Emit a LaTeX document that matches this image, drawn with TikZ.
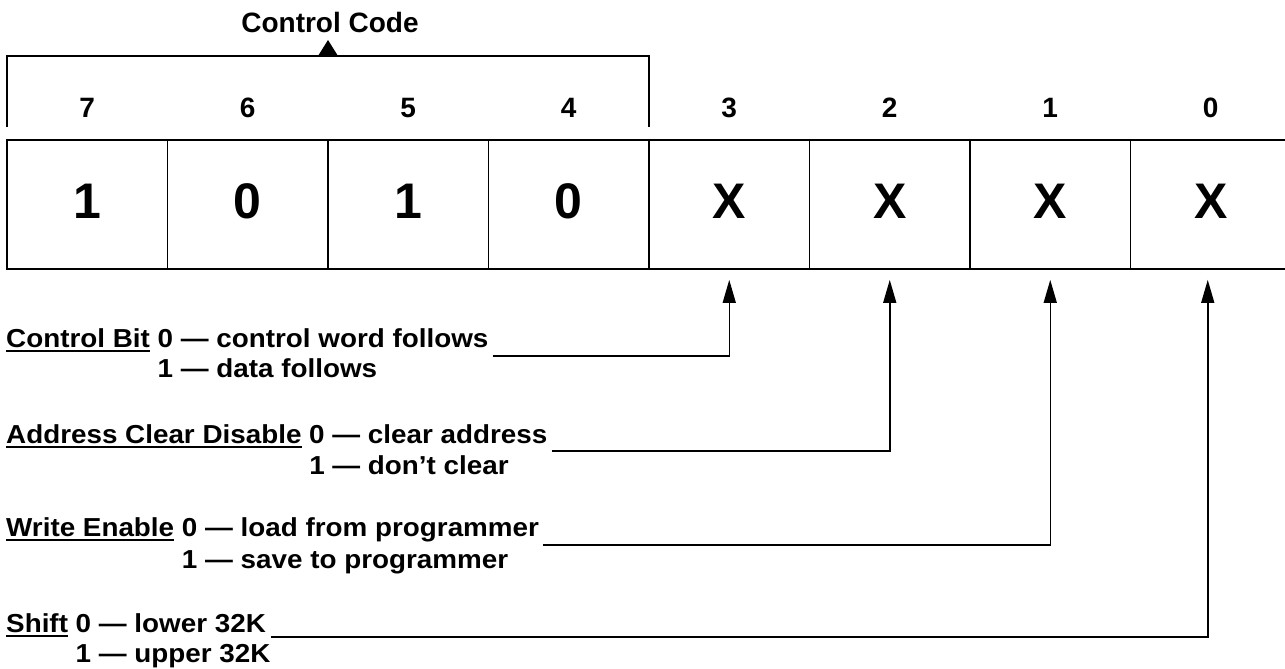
\documentclass[tikz,border=0pt]{standalone}
\usepackage{fontspec}
\setmainfont{Liberation Sans}
\newfontfamily\labf{Liberation Sans Bold}[FakeStretch=1.07]
\newfontfamily\numf{Liberation Sans Bold}
\newfontfamily\bigf{Liberation Sans Bold}
\usetikzlibrary{arrows.meta,calc}
\newcommand\ulx[1]{\setbox0\hbox{#1}\rlap{\rule[-5pt]{\wd0}{1.8pt}}\box0\relax}
\begin{document}
\begin{tikzpicture}[x=1pt,y=-1pt,
  lab/.style={font={\labf\fontsize{26pt}{30pt}\selectfont}, inner sep=0pt, anchor=base west},
  bitno/.style={font={\numf\fontsize{28pt}{32pt}\selectfont}, inner sep=0pt, anchor=base},
  cell/.style={draw, line width=1.8pt, minimum width=160.5pt, minimum height=129pt, inner sep=0pt,
    text height=36pt, text depth=9pt, font={\bigf\fontsize{50pt}{52pt}\selectfont}},
  frame/.style={line width=1.8pt},
  lead/.style={line width=1.5pt, -{Triangle[length=23pt,width=13pt]}}]
\useasboundingbox (0,0) rectangle (1285,669);
% bracket
\node[bitno] (cc) at (330,33) {Control Code};
\draw[frame] (7,127) -- (7,56) -- (649,56) -- (649,127);
\fill (318,56) -- (338,56) -- (328,40) -- cycle;
% bit numbers
\foreach \n/\x in {7/87.25,6/247.75,5/408.25,4/568.75,3/729.25,2/889.75,1/1050.25,0/1210.75}
  \node[bitno] (b\n) at (\x,117) {\n};
% cells
\node[cell] (c7) at (87.25,204.5) {1};
\node[cell] (c6) at (247.75,204.5) {0};
\node[cell] (c5) at (408.25,204.5) {1};
\node[cell] (c4) at (568.75,204.5) {0};
\node[cell] (c3) at (729.25,204.5) {X};
\node[cell] (c2) at (889.75,204.5) {X};
\node[cell] (c1) at (1050.25,204.5) {X};
\node[cell] (c0) at (1210.75,204.5) {X};
% labels
\node[lab] (cb) at (6,347) {\ulx{Control Bit} 0 — control word follows};
\node[lab] (cb1) at (6,377) {\phantom{Control Bit }1 — data follows};
\node[lab] (ad) at (6,443) {\ulx{Address Clear Disable} 0 — clear address};
\node[lab] (ad1) at (6,474) {\phantom{Address Clear Disable }1 — don’t clear};
\node[lab] (we) at (6,536) {\ulx{Write Enable} 0 — load from programmer};
\node[lab] (we1) at (6,568) {\phantom{Write Enable }1 — save to programmer};
\node[lab] (sh) at (6,632) {\ulx{Shift} 0 — lower 32K};
\node[lab] (sh1) at (6,662) {\phantom{Shift }1 — upper 32K};
% connectors
\coordinate (cbs) at ([xshift=4pt,yshift=-9pt]cb.base east);
\coordinate (ads) at ([xshift=4pt,yshift=-8pt]ad.base east);
\coordinate (wes) at ([xshift=4pt,yshift=-9pt]we.base east);
\coordinate (shs) at ([xshift=5pt,yshift=-5pt]sh.base east);
\coordinate (t3) at ([yshift=-10pt]c3.south);
\coordinate (t2) at ([yshift=-10pt]c2.south);
\coordinate (t1) at ([yshift=-10pt]c1.south);
\coordinate (t0) at ([xshift=-3pt,yshift=-10pt]c0.south);
\draw[lead] (cbs) -| (t3);
\draw[lead] (ads) -| (t2);
\draw[lead] (wes) -| (t1);
\draw[lead] (shs) -| (t0);
\end{tikzpicture}
\end{document}
